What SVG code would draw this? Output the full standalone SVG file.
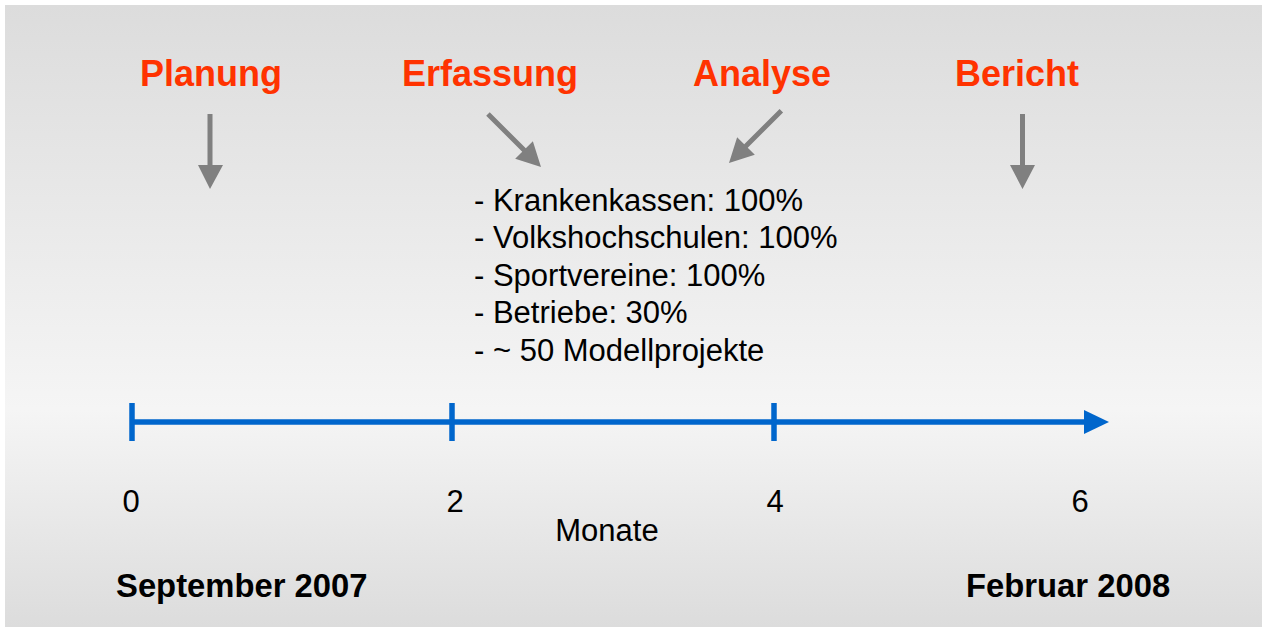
<svg xmlns="http://www.w3.org/2000/svg" width="1262" height="627" viewBox="0 0 1262 627">
<defs>
<linearGradient id="bg" x1="0" y1="0" x2="0" y2="1">
<stop offset="0" stop-color="#dcdcdc"/>
<stop offset="0.65" stop-color="#f5f5f5"/>
<stop offset="1" stop-color="#dcdcdc"/>
</linearGradient>
<style>
.head{font-family:"Liberation Sans",Arial,sans-serif;font-weight:bold;font-size:36px;fill:#ff3300;text-anchor:middle}
.item{font-family:"Liberation Sans",Arial,sans-serif;font-size:31px;fill:#000}
.num{font-family:"Liberation Sans",Arial,sans-serif;font-size:31px;fill:#000;text-anchor:middle}
.date{font-family:"Liberation Sans",Arial,sans-serif;font-weight:bold;font-size:32.8px;fill:#000}
.arr{fill:#808080}
.tl{stroke:#0066cc;stroke-width:5.5;fill:none}
</style>
</defs>
<rect x="0" y="0" width="1262" height="627" fill="#ffffff"/>
<rect x="5" y="5" width="1257" height="622" fill="url(#bg)"/>

<g id="planung"><text class="head" x="211" y="86">Planung</text></g>
<g id="erfassung"><text class="head" x="490" y="86">Erfassung</text></g>
<g id="analyse"><text class="head" x="762" y="86">Analyse</text></g>
<g id="bericht"><text class="head" x="1017" y="86">Bericht</text></g>

<g id="list">
<text class="item" x="474" y="210.5">- Krankenkassen: 100%</text>
<text class="item" x="474" y="248">- Volkshochschulen: 100%</text>
<text class="item" x="474" y="285.5">- Sportvereine: 100%</text>
<text class="item" x="474" y="323">- Betriebe: 30%</text>
<text class="item" x="474" y="360.5">- ~ 50 Modellprojekte</text>
</g>

<g id="connectors">
<path class="arr" d="M207.5 114 H212.5 V165 H223 L210 189 L198 165 H207.5 Z"/>
<path class="arr" d="M1020 114 H1025 V165 H1035 L1022.5 189 L1010 165 H1020 Z"/>
<g transform="translate(541 167) rotate(45)">
<path class="arr" d="M0 0 L-24 -12.5 V-2.5 H-75 V2.5 H-24 V12.5 Z"/>
</g>
<g transform="translate(729 163) rotate(135)">
<path class="arr" d="M0 0 L-24 -12.5 V-2.5 H-74 V2.5 H-24 V12.5 Z"/>
</g>
</g>

<g id="timeline">
<line class="tl" x1="132" y1="422" x2="1086" y2="422"/>
<path d="M1084 410 L1109 422 L1084 434 Z" fill="#0066cc"/>
<line class="tl" x1="132" y1="403" x2="132" y2="441"/>
<line class="tl" x1="452" y1="403" x2="452" y2="441"/>
<line class="tl" x1="774" y1="403" x2="774" y2="441"/>
</g>

<g id="labels">
<text class="num" x="131" y="512">0</text>
<text class="num" x="455" y="512">2</text>
<text class="num" x="775" y="512">4</text>
<text class="num" x="1080" y="512">6</text>
<text class="num" x="607" y="541">Monate</text>
<text class="date" x="116" y="597">September 2007</text>
<text class="date" x="966" y="597">Februar 2008</text>
</g>
</svg>
